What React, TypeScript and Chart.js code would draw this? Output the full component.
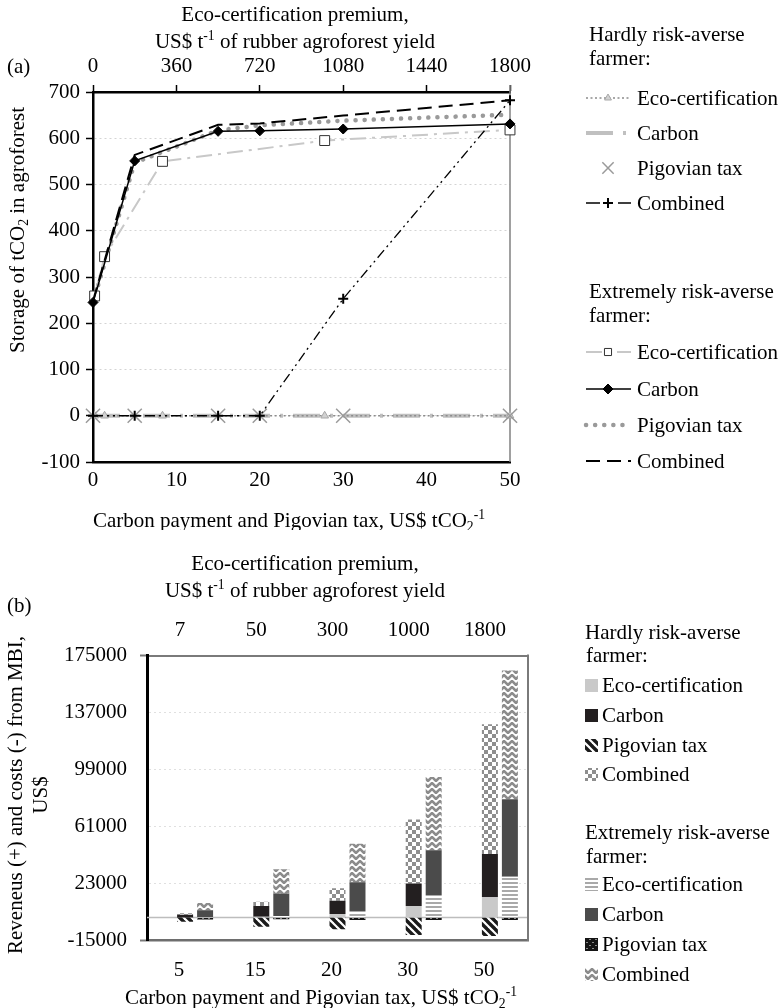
import React, { useEffect, useRef } from 'react';
import { Chart, registerables } from 'chart.js';

Chart.register(...registerables);

const FONT = "'Liberation Serif', 'Times New Roman', Times, serif";

// ---------------- Panel (a): storage of tCO2 ----------------
const paymentLevels = [0, 5, 15, 20, 30, 50]; // US$ tCO2-1 (bottom axis)
const ecoPremiumLevels = [7, 50, 300, 1000, 1800]; // US$ t-1 (top axis)
const hardlyEcoStorage = [0, 0, 0, 0, 0];
const hardlyCarbonStorage = [0, 0, 0, 0, 0, 0];
const hardlyPigovianStorage = [0, 0, 0, 0, 0, 0];
const hardlyCombinedStorage = [0, 0, 0, 0, 253, 682];
const extremeEcoStorage = [259, 344, 550, 595, 618];
const extremeCarbonStorage = [245, 551, 615, 616, 620, 631];
const extremePigovianStorage = [245, 547, 617, 628, 638, 651];
const extremeCombinedStorage = [248, 564, 629, 632, 649, 682];

// ---------------- Panel (b): revenues and costs ----------------
const paymentCategories = ['5', '15', '20', '30', '50'];
const premiumCategories = ['7', '50', '300', '1000', '1800'];
const hardlyEcoRevenue = [0, 500, 2300, 7700, 13500];
const hardlyCarbonRevenue = [1800, 7200, 8900, 15100, 28900];
const hardlyPigovianCost = [-2800, -6100, -7900, -11700, -12300];
const hardlyCombinedRevenue = [1000, 2900, 8300, 42700, 86700];
const extremeEcoRevenue = [300, 1000, 4300, 15000, 27200];
const extremeCarbonRevenue = [4500, 15000, 19300, 30000, 51800];
const extremePigovianCost = [-1300, -1200, -1700, -1700, -1700];
const extremeCombinedRevenue = [4900, 16200, 25600, 48900, 86000];

// ---------------- Text ----------------
const groupTitles = [
  ['Hardly risk-averse', 'farmer:'],
  ['Extremely risk-averse', 'farmer:'],
];
const instrumentNames = ['Eco-certification', 'Carbon', 'Pigovian tax', 'Combined'];
const topTitle1 = 'Eco-certification premium,';
type Seg = [string, number]; // 0 normal, 1 subscript, 2 superscript
const topTitle2: Seg[] = [['US$ t', 0], ['-1', 2], [' of rubber agroforest yield', 0]];
const bottomTitle: Seg[] = [['Carbon payment and Pigovian tax, US$ tCO', 0], ['2', 1], ['-1', 2]];
const yTitleA: Seg[] = [['Storage of tCO', 0], ['2', 1], [' in agroforest', 0]];
const yTitleB1 = 'Reveneus (+) and costs (-) from MBI,';
const yTitleB2 = 'US$';

function drawRich(ctx: CanvasRenderingContext2D, segs: Seg[], cx: number, cy: number, size: number, align = 'center') {
  const small = size * 0.65;
  let w = 0;
  for (const [t, m] of segs) {
    ctx.font = `${m ? small : size}px ${FONT}`;
    w += ctx.measureText(t).width;
  }
  let x = align === 'center' ? cx - w / 2 : align === 'left' ? cx : cx - w;
  const base = cy + size * 0.33;
  ctx.textBaseline = 'alphabetic';
  ctx.textAlign = 'left';
  for (const [t, m] of segs) {
    ctx.font = `${m ? small : size}px ${FONT}`;
    const dy = m === 1 ? size * 0.2 : m === 2 ? -size * 0.36 : 0;
    ctx.fillText(t, x, base + dy);
    x += ctx.measureText(t).width;
  }
}

function drawMarker(ctx: CanvasRenderingContext2D, style: string, x: number, y: number, r: number, fill: string, stroke: string, lw: number) {
  ctx.save();
  ctx.setLineDash([]);
  ctx.fillStyle = fill || 'rgba(0,0,0,0)';
  ctx.strokeStyle = stroke;
  ctx.lineWidth = lw;
  ctx.beginPath();
  if (style === 'triangle') {
    let a = 0;
    ctx.moveTo(x + Math.sin(a) * r, y - Math.cos(a) * r);
    a += (2 * Math.PI) / 3;
    ctx.lineTo(x + Math.sin(a) * r, y - Math.cos(a) * r);
    a += (2 * Math.PI) / 3;
    ctx.lineTo(x + Math.sin(a) * r, y - Math.cos(a) * r);
    ctx.closePath();
    ctx.fill();
    ctx.stroke();
  } else if (style === 'rect') {
    const s = Math.SQRT1_2 * r;
    ctx.rect(x - s, y - s, 2 * s, 2 * s);
    ctx.fill();
    ctx.stroke();
  } else if (style === 'rectRot') {
    ctx.moveTo(x, y - r);
    ctx.lineTo(x + r, y);
    ctx.lineTo(x, y + r);
    ctx.lineTo(x - r, y);
    ctx.closePath();
    ctx.fill();
    ctx.stroke();
  } else if (style === 'crossRot') {
    const d = Math.SQRT1_2 * r;
    ctx.moveTo(x - d, y - d);
    ctx.lineTo(x + d, y + d);
    ctx.moveTo(x - d, y + d);
    ctx.lineTo(x + d, y - d);
    ctx.stroke();
  } else if (style === 'cross') {
    ctx.moveTo(x, y - r);
    ctx.lineTo(x, y + r);
    ctx.moveTo(x - r, y);
    ctx.lineTo(x + r, y);
    ctx.stroke();
  }
  ctx.restore();
}

function makePattern(kind: string): CanvasPattern {
  const c = document.createElement('canvas');
  const g = c.getContext('2d')!;
  if (kind === 'diag') {
    c.width = 8; c.height = 8;
    g.fillStyle = '#ffffff'; g.fillRect(0, 0, 8, 8);
    g.strokeStyle = '#1b1b1b'; g.lineWidth = 3.4;
    for (const o of [-8, 0, 8]) { g.beginPath(); g.moveTo(o - 1, -1); g.lineTo(o + 9, 9); g.stroke(); }
  } else if (kind === 'checker') {
    c.width = 8; c.height = 8;
    g.fillStyle = '#ffffff'; g.fillRect(0, 0, 8, 8);
    g.fillStyle = '#8e8e8e'; g.fillRect(0, 0, 4, 4); g.fillRect(4, 4, 4, 4);
  } else if (kind === 'hstripe') {
    c.width = 4; c.height = 4;
    g.fillStyle = '#ffffff'; g.fillRect(0, 0, 4, 4);
    g.fillStyle = '#a9a9a9'; g.fillRect(0, 0, 4, 2);
  } else if (kind === 'dots') {
    c.width = 6; c.height = 6;
    g.fillStyle = '#141414'; g.fillRect(0, 0, 6, 6);
    g.fillStyle = '#8a8a8a'; g.fillRect(1, 1, 2, 1); g.fillRect(4, 4, 2, 1);
  } else {
    c.width = 8; c.height = 6;
    g.fillStyle = '#ffffff'; g.fillRect(0, 0, 8, 6);
    g.strokeStyle = '#8c8c8c'; g.lineWidth = 2.6;
    g.beginPath(); g.moveTo(-4, 5); g.lineTo(0, 1); g.lineTo(4, 5); g.lineTo(8, 1); g.lineTo(12, 5); g.stroke();
  }
  return g.createPattern(c, 'repeat')!;
}

const tickFont = { family: FONT, size: 21 };
const plainNumber = (v: any) => String(v);

function buildConfigA(): any {
  const pts = (xs: number[], ys: number[]) => xs.map((x, i) => ({ x, y: ys[i] }));
  const ds: Record<string, any> = {
    hEco: {
      label: instrumentNames[0], xAxisID: 'x2', data: pts(ecoPremiumLevels, hardlyEcoStorage),
      borderColor: '#8c8c8c', borderWidth: 1.3, borderDash: [2, 2.5],
      pointStyle: 'triangle', pointRadius: 4.5, pointBackgroundColor: '#d2d2d2', pointBorderColor: '#a8a8a8', pointBorderWidth: 1,
    },
    hCarbon: {
      label: instrumentNames[1], data: pts(paymentLevels, hardlyCarbonStorage),
      borderColor: '#c0c0c0', borderWidth: 4, borderDash: [27, 10, 3, 10], pointRadius: 0,
    },
    hPig: {
      label: instrumentNames[2], data: pts(paymentLevels, hardlyPigovianStorage), showLine: false,
      borderColor: '#9a9a9a', pointStyle: 'crossRot', pointRadius: 10, pointBorderColor: '#9a9a9a', pointBackgroundColor: '#9a9a9a', pointBorderWidth: 1.5,
    },
    hComb: {
      label: instrumentNames[3], data: pts(paymentLevels, hardlyCombinedStorage),
      borderColor: '#000', borderWidth: 1.3, borderDash: [10, 4, 2, 4, 2, 4],
      pointStyle: 'cross', pointRadius: 5, pointBorderColor: '#000', pointBackgroundColor: '#000', pointBorderWidth: 2,
    },
    eEco: {
      label: instrumentNames[0], xAxisID: 'x2', data: pts(ecoPremiumLevels, extremeEcoStorage),
      borderColor: '#c8c8c8', borderWidth: 2, borderDash: [16, 6, 3, 6],
      pointStyle: 'rect', pointRadius: 7, pointBackgroundColor: '#ffffff', pointBorderColor: '#333', pointBorderWidth: 1,
    },
    eCarbon: {
      label: instrumentNames[1], data: pts(paymentLevels, extremeCarbonStorage),
      borderColor: '#000', borderWidth: 1.5, pointStyle: 'rectRot', pointRadius: 5, pointBackgroundColor: '#000', pointBorderColor: '#000', pointBorderWidth: 1,
    },
    ePig: {
      label: instrumentNames[2], data: pts(paymentLevels, extremePigovianStorage),
      borderColor: '#9a9a9a', borderWidth: 4.5, borderDash: [0.1, 9], borderCapStyle: 'round', pointRadius: 0,
    },
    eComb: {
      label: instrumentNames[3], data: pts(paymentLevels, extremeCombinedStorage),
      borderColor: '#000', borderWidth: 2, borderDash: [14, 7], pointRadius: 0,
    },
  };
  const order = ['hComb', 'eCarbon', 'eComb', 'eEco', 'ePig', 'hPig', 'hEco', 'hCarbon'];
  const datasets = order.map((k) => ({ clip: false, tension: 0, ...ds[k] }));

  const legendRows: [string, number, number[] | null][][] = [
    [['hEco', 98, null], ['hCarbon', 133, null], ['hPig', 168, null], ['hComb', 203, [14, 18]]],
    [['eEco', 352, null], ['eCarbon', 389, null], ['ePig', 425, null], ['eComb', 461, null]],
  ];
  const headerY = [[34, 58], [291, 315]];

  const deco = {
    id: 'decoA',
    beforeDatasetsDraw(chart: any) {
      const { ctx, chartArea } = chart;
      ctx.save();
      ctx.strokeStyle = '#808080';
      ctx.lineWidth = 1.5;
      ctx.beginPath();
      ctx.moveTo(chartArea.right, chartArea.top - 7);
      ctx.lineTo(chartArea.right, chartArea.bottom);
      ctx.stroke();
      ctx.restore();
    },
    afterDraw(chart: any) {
      const ctx: CanvasRenderingContext2D = chart.ctx;
      ctx.save();
      ctx.fillStyle = '#000';
      drawRich(ctx, [[topTitle1, 0]], 295, 14, 21);
      drawRich(ctx, topTitle2, 295, 41, 21);
      drawRich(ctx, [['(a)', 0]], 7, 66, 21, 'left');
      drawRich(ctx, bottomTitle, 289, 520, 21);
      ctx.save();
      ctx.translate(17, 230);
      ctx.rotate(-Math.PI / 2);
      drawRich(ctx, yTitleA, 0, 0, 21);
      ctx.restore();
      // legend
      for (let g = 0; g < 2; g++) {
        drawRich(ctx, [[groupTitles[g][0], 0]], 589, headerY[g][0], 21, 'left');
        drawRich(ctx, [[groupTitles[g][1], 0]], 589, headerY[g][1], 21, 'left');
        for (const [key, y, dash] of legendRows[g]) {
          const d = ds[key];
          const x1 = 586, x2 = 631, mx = 608;
          if (d.showLine !== false) {
            ctx.save();
            ctx.strokeStyle = d.borderColor;
            ctx.lineWidth = d.borderWidth;
            ctx.setLineDash(dash || d.borderDash || []);
            ctx.lineCap = d.borderCapStyle || 'butt';
            ctx.beginPath();
            ctx.moveTo(x1, y);
            ctx.lineTo(x2, y);
            ctx.stroke();
            ctx.restore();
          }
          if (d.pointRadius) {
            const r = key === 'hPig' ? 8 : key === 'eEco' ? 5 : key === 'hEco' ? 4 : d.pointRadius;
            drawMarker(ctx, d.pointStyle, mx, y, r, d.pointBackgroundColor, d.pointBorderColor, d.pointBorderWidth);
          }
          ctx.fillStyle = '#000';
          drawRich(ctx, [[d.label, 0]], 637, y, 21, 'left');
        }
      }
      ctx.restore();
    },
  };

  return {
    type: 'line',
    data: { datasets },
    plugins: [deco],
    options: {
      animation: false,
      responsive: false,
      devicePixelRatio: 1,
      layout: { padding: { left: 0, right: 274, top: 0, bottom: 0 } },
      plugins: { legend: { display: false }, tooltip: { enabled: false } },
      scales: {
        x: {
          type: 'linear', position: 'bottom', min: 0, max: 50,
          ticks: { stepSize: 10, font: tickFont, color: '#000', padding: 6, callback: plainNumber },
          grid: { drawOnChartArea: false, drawTicks: false },
          border: { color: '#000', width: 2.5 },
          afterFit: (s: any) => { s.height = 68; },
        },
        x2: {
          type: 'linear', position: 'top', min: 0, max: 1800,
          ticks: { stepSize: 360, font: tickFont, color: '#000', padding: 6, callback: plainNumber },
          grid: { drawOnChartArea: false, drawTicks: true, tickLength: 7, tickColor: '#000', tickWidth: 1.5 },
          border: { color: '#000', width: 2.5 },
          afterFit: (s: any) => { s.height = 92; },
        },
        y: {
          type: 'linear', position: 'left', min: -100, max: 700,
          ticks: { stepSize: 100, font: tickFont, color: '#000', padding: 6, callback: plainNumber },
          grid: {
            color: (c: any) => (c.tick && (c.tick.value === 700 || c.tick.value === -100) ? 'rgba(0,0,0,0)' : '#d4d4d4'),
            lineWidth: 1, drawTicks: true, tickLength: 7, tickColor: '#000', tickWidth: 1.5,
          },
          border: { color: '#000', width: 2.5, dash: [2, 3] },
          afterFit: (s: any) => { s.width = 93; },
        },
      },
    },
  };
}

function buildConfigB(): any {
  const fills: Record<string, any> = {
    hEco: '#c9c9c9',
    hCarbon: '#231f20',
    hPig: makePattern('diag'),
    hComb: makePattern('checker'),
    eEco: makePattern('hstripe'),
    eCarbon: '#4b4b4b',
    ePig: makePattern('dots'),
    eComb: makePattern('zigzag'),
  };
  const values: Record<string, number[]> = {
    hEco: hardlyEcoRevenue, hCarbon: hardlyCarbonRevenue, hPig: hardlyPigovianCost, hComb: hardlyCombinedRevenue,
    eEco: extremeEcoRevenue, eCarbon: extremeCarbonRevenue, ePig: extremePigovianCost, eComb: extremeCombinedRevenue,
  };
  const keys = ['hEco', 'hCarbon', 'hPig', 'hComb', 'eEco', 'eCarbon', 'ePig', 'eComb'];
  const datasets: any[] = [
    { label: '', stack: 'slot', data: paymentCategories.map(() => null), backgroundColor: 'rgba(0,0,0,0)' },
    ...keys.map((k, i) => ({
      label: instrumentNames[i % 4],
      stack: k[0] === 'h' ? 'hardly' : 'extreme',
      data: values[k],
      backgroundColor: fills[k],
      borderWidth: 0,
    })),
  ];

  const headerY = [[102, 125], [302, 326]];
  const rowY = [[155, 185, 215, 244], [354, 384, 414, 444]];

  const deco = {
    id: 'decoB',
    beforeDatasetsDraw(chart: any) {
      const { ctx, chartArea, scales } = chart;
      const y0 = scales.y.getPixelForValue(0);
      ctx.save();
      ctx.strokeStyle = '#bdbdbd';
      ctx.lineWidth = 1.5;
      ctx.beginPath();
      ctx.moveTo(chartArea.left, y0);
      ctx.lineTo(chartArea.right, y0);
      ctx.stroke();
      ctx.restore();
    },
    afterDraw(chart: any) {
      const ctx: CanvasRenderingContext2D = chart.ctx;
      const { chartArea } = chart;
      ctx.save();
      ctx.strokeStyle = '#7a7a7a';
      ctx.lineWidth = 2;
      ctx.beginPath();
      ctx.moveTo(chartArea.right, chartArea.top - 1);
      ctx.lineTo(chartArea.right, chartArea.bottom + 1);
      ctx.stroke();
      ctx.fillStyle = '#000';
      drawRich(ctx, [[topTitle1, 0]], 305, 33, 21);
      drawRich(ctx, topTitle2, 305, 60, 21);
      drawRich(ctx, [['(b)', 0]], 7, 75, 21, 'left');
      drawRich(ctx, bottomTitle, 321, 467, 21);
      ctx.save();
      ctx.translate(15, 265);
      ctx.rotate(-Math.PI / 2);
      drawRich(ctx, [[yTitleB1, 0]], 0, 0, 21);
      drawRich(ctx, [[yTitleB2, 0]], 0, 25, 21);
      ctx.restore();
      for (let g = 0; g < 2; g++) {
        drawRich(ctx, [[groupTitles[g][0], 0]], 585, headerY[g][0], 21, 'left');
        drawRich(ctx, [[groupTitles[g][1], 0]], 586, headerY[g][1], 21, 'left');
        for (let i = 0; i < 4; i++) {
          const k = keys[g * 4 + i];
          const y = rowY[g][i];
          ctx.fillStyle = fills[k];
          ctx.fillRect(585, y - 6, 13, 13);
          ctx.fillStyle = '#000';
          drawRich(ctx, [[instrumentNames[i], 0]], 602, y, 21, 'left');
        }
      }
      ctx.restore();
    },
  };

  return {
    type: 'bar',
    data: { labels: paymentCategories, datasets },
    plugins: [deco],
    options: {
      animation: false,
      responsive: false,
      devicePixelRatio: 1,
      datasets: { bar: { categoryPercentage: 0.787, barPercentage: 0.8 } },
      layout: { padding: { left: 0, right: 256, top: 0, bottom: 0 } },
      plugins: { legend: { display: false }, tooltip: { enabled: false } },
      scales: {
        x: {
          type: 'category', position: 'bottom', stacked: true, offset: true,
          ticks: { font: tickFont, color: '#000', padding: 10, labelOffset: -6 },
          grid: { display: false },
          border: { color: '#6e6e6e', width: 2.5 },
          afterFit: (s: any) => { s.height = 68; },
        },
        x2: {
          type: 'category', position: 'top', labels: premiumCategories, offset: true,
          ticks: { font: tickFont, color: '#000', padding: 4, labelOffset: -5 },
          grid: { display: false },
          border: { color: '#7a7a7a', width: 2 },
          afterFit: (s: any) => { s.height = 125.5; },
        },
        y: {
          type: 'linear', position: 'left', stacked: true, min: -15000, max: 175000,
          ticks: { stepSize: 38000, font: tickFont, color: '#000', padding: 13, callback: plainNumber },
          grid: {
            color: (c: any) => (c.tick && c.tick.value > -15000 && c.tick.value < 175000 ? '#e0e0e0' : 'rgba(0,0,0,0)'),
            lineWidth: 1, drawTicks: true, tickLength: 7, tickWidth: 2,
            tickColor: (c: any) => (c.tick && (c.tick.value === -15000 || c.tick.value === 175000) ? '#7a7a7a' : 'rgba(0,0,0,0)'),
          },
          border: { color: '#000', width: 3, dash: [2, 3] },
          afterFit: (s: any) => { s.width = 147; },
        },
      },
    },
  };
}

export default function App() {
  const refA = useRef<HTMLCanvasElement>(null);
  const refB = useRef<HTMLCanvasElement>(null);
  useEffect(() => {
    Chart.defaults.font.family = FONT;
    const chartA = new Chart(refA.current!, buildConfigA());
    const chartB = new Chart(refB.current!, buildConfigB());
    return () => {
      chartA.destroy();
      chartB.destroy();
    };
  }, []);
  return (
    <div style={{ position: 'absolute', left: 0, top: 0, width: 784, height: 1008, background: '#fff' }}>
      <canvas ref={refA} width={784} height={530} style={{ display: 'block', width: 784, height: 530 }} />
      <canvas ref={refB} width={784} height={478} style={{ display: 'block', width: 784, height: 478 }} />
    </div>
  );
}
